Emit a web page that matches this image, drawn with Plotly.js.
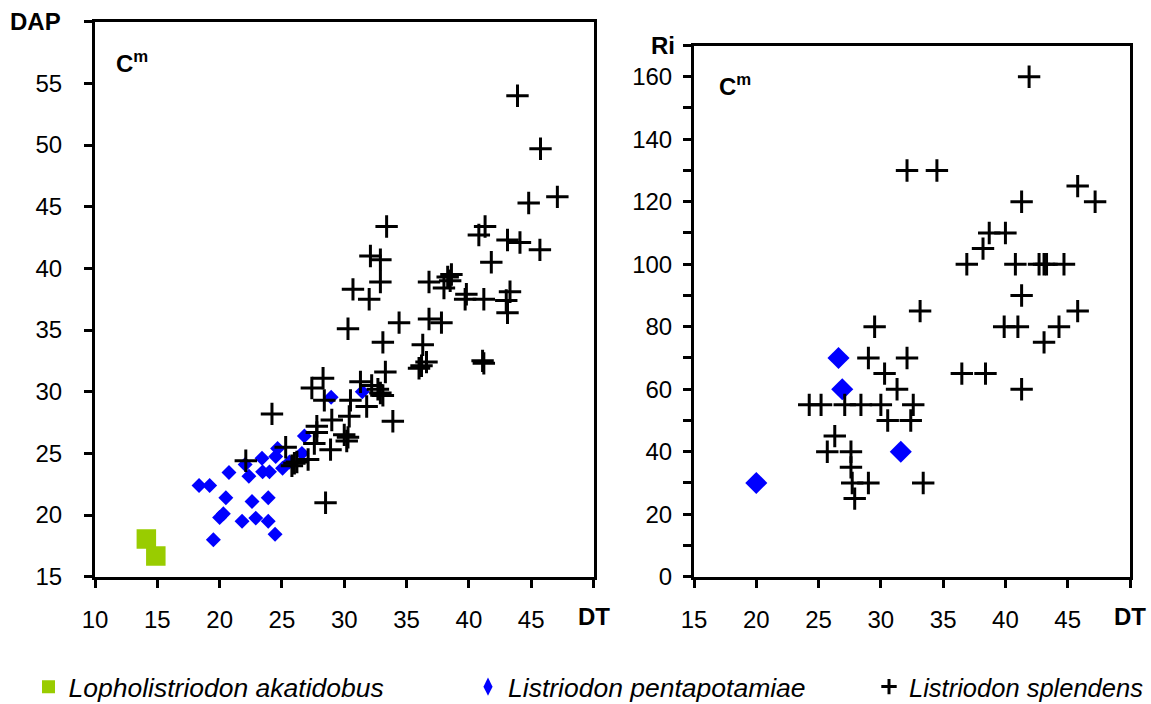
<!DOCTYPE html>
<html>
<head>
<meta charset="utf-8">
<script src="https://cdn.plot.ly/plotly-3.0.1.min.js"></script>
<style>html,body{margin:0;padding:0;background:#fff;}#chart{width:1151px;height:704px;}</style>
</head>
<body>
<div id="chart"></div>
<script>
// ---- Left panel: DAP vs DT ----
const lophoDT  = [14.12, 14.88];
const lophoDAP = [18.06, 16.68];

const pentaDT  = [18.35,19.2,20.75,20.5,20.3,20.0,19.5,21.8,22.6,22.9,23.9,23.9,24.45,22.05,22.35,23.4,23.45,24.0,24.65,24.5,25.05,25.6,26.8,26.6,28.95,31.45];
const pentaDAP = [22.4,22.4,23.45,21.4,20.1,19.8,18.0,19.5,21.1,19.75,21.4,19.5,18.45,24.1,23.15,24.6,23.5,23.5,25.4,24.75,23.8,24.3,26.4,25.0,29.55,30.0];

const splDT  = [43.9,45.75,44.8,47.1,41.3,40.8,43.1,44.1,45.7,41.8,33.4,32.1,32.9,
                32.9,30.7,32.0,36.8,38.3,38.6,38.5,38.0,39.8,39.7,41.2,43.3,43.0,43.1,
                30.3,34.4,36.8,37.8,
                33.1,36.3,36.2,36.0,36.6,41.1,41.2,33.3,
                28.3,27.4,28.4,31.3,32.2,32.7,32.9,33.1,30.5,31.8,24.2,30.4,33.9,
                29.0,27.8,27.8,30.0,30.3,30.2,28.9,27.6,25.3,
                22.1,25.8,26.0,26.2,27.1,28.5];
const splDAP = [54.0,49.7,45.3,45.8,43.4,42.7,42.3,42.1,41.5,40.5,43.4,41.0,40.7,
                38.9,38.3,37.5,38.9,39.3,39.5,39.0,38.4,37.9,37.5,37.5,38.1,37.4,36.4,
                35.1,35.6,35.9,35.6,
                34.0,33.8,32.1,31.9,32.4,32.5,32.3,31.6,
                31.1,30.3,29.3,30.8,30.5,30.2,29.9,29.7,29.3,28.8,28.2,28.0,27.6,
                27.7,27.2,26.7,26.5,26.3,26.0,25.3,25.8,25.5,
                24.4,24.0,24.2,24.3,24.5,21.0];

// ---- Right panel: Ri vs DT ----
const pentaRiDT = [20.0, 26.6, 26.9, 31.6];
const pentaRi   = [30, 70, 60, 40];

const splRiDT = [41.9,32.1,34.5,45.8,41.3,47.2,38.7,40.0,38.2,36.9,40.8,42.7,43.1,43.3,44.7,41.3,33.15,45.8,
                 29.5,39.9,41.0,44.3,43.1,29.0,32.1,30.3,36.5,38.4,31.3,41.3,
                 24.25,25.2,27.1,28.4,30.0,32.6,30.55,32.4,26.3,25.7,27.6,27.6,27.7,29.0,33.4,27.9];
const splRi   = [160,130,130,125,120,120,110,110,105,100,100,100,100,100,100,90,85,85,
                 80,80,80,80,75,70,70,65,65,65,60,60,
                 55,55,55,55,55,55,50,50,45,40,40,35,30,30,30,25];

// ---- tick labels ----
const leftXTicks  = [10,15,20,25,30,35,40,45,50];
const leftXLabels = ['10','15','20','25','30','35','40','45',''];
const leftYTicks  = [15,20,25,30,35,40,45,50,55,60];
const leftYLabels = ['15','20','25','30','35','40','45','50','55',''];
const rightXTicks  = [15,20,25,30,35,40,45,50];
const rightXLabels = ['15','20','25','30','35','40','45',''];
const rightYTicks  = [0,10,20,30,40,50,60,70,80,90,100,110,120,130,140,150,160,170];
const rightYLabels = ['0','','20','','40','','60','','80','','100','','120','','140','','160',''];

const legendNames = ['Lopholistriodon akatidobus','Listriodon pentapotamiae','Listriodon splendens'];

const FONT = 'Liberation Sans, Arial, sans-serif';
const GREEN = '#99cc00', BLUE = '#0000ff', BLACK = '#000000';

const crossMarker = {symbol:'cross-thin', size:16, color:BLACK, line:{width:3, color:BLACK}};

const traces = [
  {x:lophoDT, y:lophoDAP, xaxis:'x', yaxis:'y', mode:'markers', showlegend:false,
   marker:{symbol:'square', size:19.5, color:GREEN}},
  {x:pentaDT, y:pentaDAP, xaxis:'x', yaxis:'y', mode:'markers', showlegend:false,
   marker:{symbol:'diamond', size:11.5, color:BLUE}},
  {x:splDT, y:splDAP, xaxis:'x', yaxis:'y', mode:'markers', showlegend:false, marker:crossMarker},
  {x:pentaRiDT, y:pentaRi, xaxis:'x2', yaxis:'y2', mode:'markers', showlegend:false,
   marker:{symbol:'diamond', size:17, color:BLUE}},
  {x:splRiDT, y:splRi, xaxis:'x2', yaxis:'y2', mode:'markers', showlegend:false, marker:crossMarker},
  // legend entries
  {x:[null], y:[null], xaxis:'x', yaxis:'y', mode:'markers', name:'<i>'+legendNames[0]+'</i>', legend:'legend',
   marker:{symbol:'square', size:13, color:GREEN}},
  {x:[null], y:[null], xaxis:'x', yaxis:'y', mode:'markers', name:'<i>'+legendNames[1]+'</i>', legend:'legend2',
   marker:{symbol:'diamond-tall', size:13, color:BLUE}},
  {x:[null], y:[null], xaxis:'x', yaxis:'y', mode:'markers', name:'<i>'+legendNames[2]+'</i>', legend:'legend3',
   marker:{symbol:'cross-thin', size:11, color:BLACK, line:{width:3, color:BLACK}}}
];

const W = 1151, H = 704;
const BOT = 576.7;
const baseAxis = {
  showgrid:false, zeroline:false, showline:true, linewidth:3, linecolor:BLACK, mirror:true,
  ticks:'outside', ticklen:8, tickwidth:3, tickcolor:BLACK,
  tickfont:{family:FONT, size:24, color:BLACK}, tickmode:'array', fixedrange:true
};
const legendFont = {family:FONT, size:26.5, color:BLACK};
const legBase = {orientation:'h', yanchor:'middle', xanchor:'left', xref:'container', yref:'container',
                 y:1-687/H, font:legendFont, bgcolor:'rgba(0,0,0,0)', borderwidth:0, itemclick:false};

const layout = {
  width:W, height:H, margin:{l:0,r:0,t:0,b:0, autoexpand:false}, paper_bgcolor:'#fff', plot_bgcolor:'#fff',
  font:{family:FONT, color:BLACK},
  xaxis: Object.assign({}, baseAxis, {domain:[95/W, 593.5/W], range:[10,50], tickvals:leftXTicks, ticktext:leftXLabels, anchor:'y', ticklabelstandoff:11}),
  yaxis: Object.assign({}, baseAxis, {domain:[1-BOT/H, 1-21.7/H], range:[15,60], tickvals:leftYTicks, ticktext:leftYLabels, anchor:'x', ticklabelstandoff:17}),
  xaxis2: Object.assign({}, baseAxis, {domain:[694/W, 1130/W], range:[15,50], tickvals:rightXTicks, ticktext:rightXLabels, anchor:'y2', ticklabelstandoff:11}),
  yaxis2: Object.assign({}, baseAxis, {domain:[1-BOT/H, 1-45.5/H], range:[0,170], tickvals:rightYTicks, ticktext:rightYLabels, anchor:'x2', ticklabelstandoff:6}),
  legend: Object.assign({}, legBase, {x:(48.5-20)/W}),
  legend2: Object.assign({}, legBase, {x:(488-20)/W}),
  legend3: Object.assign({}, legBase, {x:(889-20)/W, font:{family:FONT, size:25.5, color:BLACK}}),
  annotations:[
    {text:'<b>DAP</b>', xref:'paper', yref:'y', x:95/W, y:60, xanchor:'right', yanchor:'middle', xshift:-32, showarrow:false, font:{family:FONT,size:24,color:BLACK}},
    {text:'<b>DT</b>', xref:'x', yref:'paper', x:50, y:1-BOT/H, xanchor:'center', yanchor:'top', yshift:-24, showarrow:false, font:{family:FONT,size:24,color:BLACK}},
    {text:'<b>C<sup>m</sup></b>', xref:'paper', yref:'paper', x:114/W, y:1-62/H, xanchor:'left', yanchor:'middle', showarrow:false, font:{family:FONT,size:24,color:BLACK}},
    {text:'<b>Ri</b>', xref:'paper', yref:'y2', x:694/W, y:170, xanchor:'right', yanchor:'middle', xshift:-17, showarrow:false, font:{family:FONT,size:24,color:BLACK}},
    {text:'<b>DT</b>', xref:'x2', yref:'paper', x:50, y:1-BOT/H, xanchor:'center', yanchor:'top', yshift:-24, showarrow:false, font:{family:FONT,size:24,color:BLACK}},
    {text:'<b>C<sup>m</sup></b>', xref:'paper', yref:'paper', x:717/W, y:1-85/H, xanchor:'left', yanchor:'middle', showarrow:false, font:{family:FONT,size:24,color:BLACK}}
  ]
};

Plotly.newPlot('chart', traces, layout, {staticPlot:true, displayModeBar:false});
</script>
</body>
</html>
